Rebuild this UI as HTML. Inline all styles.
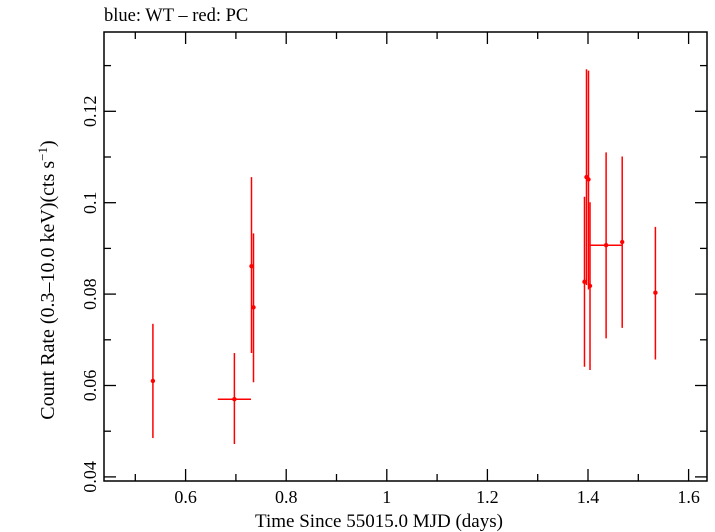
<!DOCTYPE html>
<html><head><meta charset="utf-8"><style>
body{margin:0;background:#fff;}
svg{display:block;font-family:"Liberation Serif",serif;}
</style></head><body>
<svg id="chart" width="715" height="532" viewBox="0 0 715 532">
<text x="104" y="21" font-size="18.5">blue: WT – red: PC</text>
<rect x="104" y="32" width="603" height="449" fill="none" stroke="#000" stroke-width="1.5"/>
<g id="xticks"></g>
<g id="yticks"></g>
<g id="pts"></g>
<text x="379" y="527" font-size="19" text-anchor="middle">Time Since 55015.0 MJD (days)</text>
<text transform="translate(54,280) rotate(-90)" font-size="20" text-anchor="middle">Count Rate (0.3–10.0 keV)(cts s<tspan dy="-7" font-size="13">−1</tspan><tspan dy="7">)</tspan></text>
</svg>
<script>
const xTickVals=[0.6,0.8,1,1.2,1.4,1.6];
const xTickLabels=["0.6","0.8","1","1.2","1.4","1.6"];
const yTickVals=[0.04,0.06,0.08,0.1,0.12];
const yTickLabels=["0.04","0.06","0.08","0.1","0.12"];
const times=[0.535,0.697,0.731,0.735,1.393,1.397,1.401,1.404,1.436,1.468,1.534];
const tLo=[0.535,0.664,0.731,0.735,1.393,1.397,1.401,1.404,1.403,1.468,1.534];
const tHi=[0.535,0.730,0.731,0.735,1.393,1.397,1.401,1.404,1.468,1.468,1.534];
const rates=[0.061,0.057,0.0861,0.0771,0.0827,0.1056,0.1051,0.0818,0.0907,0.0914,0.0803];
const rLo=[0.0485,0.0472,0.0671,0.0607,0.0641,0.082,0.081,0.0634,0.0703,0.0726,0.0657];
const rHi=[0.0735,0.0671,0.1056,0.0933,0.1013,0.1292,0.1289,0.1001,0.111,0.1101,0.0947];
const NS="http://www.w3.org/2000/svg";
const X=v=>588+(v-1.4)*503;
const Y=v=>202.7-(v-0.1)*4570;
function mk(tag,attrs,parent){const e=document.createElementNS(NS,tag);for(const k in attrs)e.setAttribute(k,attrs[k]);parent.appendChild(e);return e;}
const xg=document.getElementById('xticks'),yg=document.getElementById('yticks'),pg=document.getElementById('pts');
for(let k=0;k<12;k++){const v=0.5+k*0.1;const x=X(v);if(x<104||x>707)continue;const major=k%2==1;const L=major?12:7;
mk('line',{x1:x,x2:x,y1:481,y2:481-L,stroke:'#000','stroke-width':1.3},xg);mk('line',{x1:x,x2:x,y1:32,y2:32+L,stroke:'#000','stroke-width':1.3},xg);}
xTickVals.forEach((v,i)=>{const t=mk('text',{x:X(v),y:503,'font-size':18,'text-anchor':'middle'},xg);t.textContent=xTickLabels[i];

});
for(let k=0;k<10;k++){const v=0.04+k*0.01;const y=Y(v);const major=k%2==0;const L=major?12:7;
mk('line',{x1:104,x2:104+L,y1:y,y2:y,stroke:'#000','stroke-width':1.3},yg);mk('line',{x1:707,x2:707-L,y1:y,y2:y,stroke:'#000','stroke-width':1.3},yg);}
yTickVals.forEach((v,i)=>{const y=Y(v);const t=mk('text',{transform:`translate(96,${y}) rotate(-90)`,'font-size':18,'text-anchor':'middle'},yg);t.textContent=yTickLabels[i];

});
times.forEach((t,i)=>{const g=mk('g',{},pg);


mk('line',{x1:X(t),x2:X(t),y1:Y(rLo[i]),y2:Y(rHi[i]),stroke:'#f00','stroke-width':1.5},g);
if(tHi[i]>tLo[i])mk('line',{x1:X(tLo[i]),x2:X(tHi[i]),y1:Y(rates[i]),y2:Y(rates[i]),stroke:'#f00','stroke-width':1.5},g);
mk('circle',{cx:X(t),cy:Y(rates[i]),r:2.2,fill:'#f00'},g);});
</script>
</body></html>
